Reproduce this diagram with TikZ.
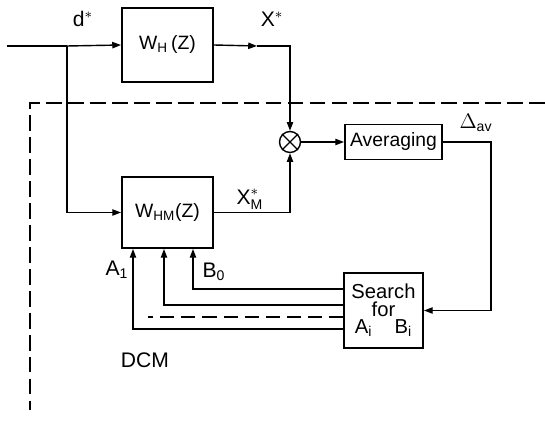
\documentclass[tikz,border=0pt]{standalone}
\usepackage{amsmath}
\usepackage{fontspec}
\setmainfont{Liberation Sans}
\usetikzlibrary{calc,positioning,arrows.meta}

\begin{document}
\begin{tikzpicture}[x=0.02cm, y=-0.02cm, font=\fontsize{11}{13}\selectfont,
  line width=0.8pt, >={Triangle[length=5pt,width=3.6pt]},
  block/.style={draw, rectangle, line width=1.1pt, inner sep=1pt},
  lab/.style={font=\fontsize{12}{14}\selectfont},
  bound/.style={dash pattern=on 9pt off 3.5pt}]
 \useasboundingbox (0,0) rectangle (545,429);

 \node (wh) [block, minimum width=1.82cm, minimum height=1.48cm] at (167.5,45) {W\textsubscript{H}\,(Z)};
 \node (whm) [block, minimum width=1.82cm, minimum height=1.42cm] at (167.5,212.5) {W\textsubscript{HM}(Z)};
 \node (mult) [draw, circle, minimum size=0.42cm, inner sep=0pt] at (290,142) {};
 \draw (mult.north west) -- (mult.south east) (mult.north east) -- (mult.south west);
 \node (avg) [block, minimum width=1.94cm, minimum height=0.7cm] at (393.5,142) {Averaging};
 \node (search) [block, minimum width=1.58cm, minimum height=1.5cm, align=center,
   font=\fontsize{11.5}{10}\selectfont] at (383.5,310.5) {Search\\for\\A\textsubscript{i}\hspace{1.1em}B\textsubscript{i}};

 % signal paths
 \coordinate (in) at (7,46);
 \coordinate (split) at (67,46);
 \coordinate (xstar) at (257,46);
 \coordinate (dturn) at (491,142);
 \draw (in) -- (split);
 \draw[->] (split) -- (wh.west);
 \draw[->] (split) |- (whm.west);
 \draw[->] (wh.east) -- (xstar);
 \draw[->] (xstar) -| (mult.north);
 \draw[->] (whm.east) -| (mult.south);
 \draw[->] (mult) -- (avg);
 \draw[->] (avg.east) -- (dturn) |- (search.east);

 % parameter feedback
 \coordinate (a1) at ($(whm.south)+(-34.5,0)$);
 \coordinate (ak) at ($(whm.south)+(-3.5,0)$);
 \coordinate (b0) at ($(whm.south)+(25.5,0)$);
 \draw[->] (search.west |- 0,289) -| (b0);
 \draw[->] (search.west |- 0,305) -| (ak);
 \draw[->] (search.west |- 0,329) -| (a1);
 \draw[dash pattern=on 8pt off 4pt] (search.west |- 0,317) -- (148,317);

 % model boundary
 \draw[bound] (545,103) -- (30,103) -- (30,410);

 \node (dlab) [lab] at (83,19) {d$^{*}$};
 \node (xlab) [lab] at (272,19) {X$^{*}$};
 \node (xmlab) [lab] at (250,199) {$\text{X}^{*}_{\text{M}}$};
 \node (dav) [lab] at (476,123) {$\Delta$\textsubscript{av}};
 \node (a1lab) [lab] at (117,270) {A\textsubscript{1}};
 \node (b0lab) [lab] at (214,272) {B\textsubscript{0}};
 \node (dcm) [lab] at (145,360) {DCM};
\end{tikzpicture}
\end{document}
